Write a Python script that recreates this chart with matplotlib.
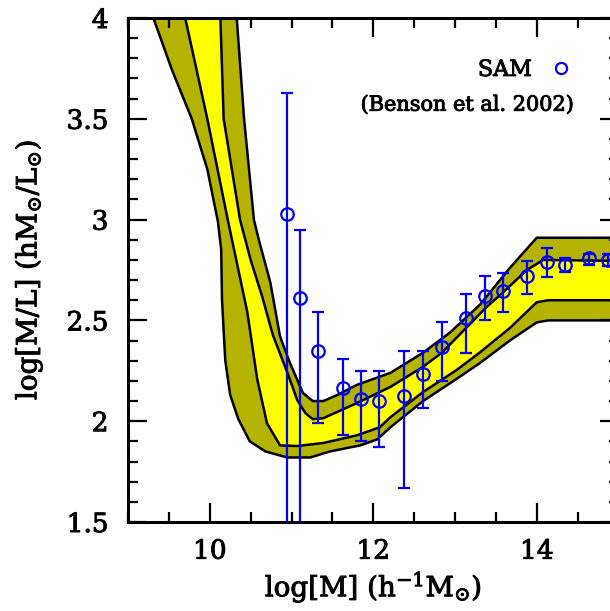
import matplotlib
matplotlib.use('Agg')
import matplotlib.pyplot as plt
import matplotlib.patheffects as pe
from matplotlib.lines import Line2D
from matplotlib.ticker import MultipleLocator, FuncFormatter

plt.rcParams['font.family'] = ['DejaVu Serif']
plt.rcParams['mathtext.fontset'] = 'dejavuserif'

# band edges: outer upper (A), inner upper (B), inner lower (C), outer lower (D)
a_x = [10.33, 10.42, 10.54, 10.60, 10.74, 10.86, 10.98, 11.14, 11.26, 11.39, 11.56, 11.80,
       12.21, 12.61, 12.94, 13.31, 13.67, 14.00, 15.0]
a_y = [4.00, 3.50, 3.00, 2.90, 2.69, 2.42, 2.29, 2.14, 2.10, 2.10, 2.13, 2.18,
       2.24, 2.34, 2.44, 2.58, 2.76, 2.91, 2.91]

b_x = [10.13, 10.17, 10.37, 10.50, 10.64, 10.77, 10.95, 11.07, 11.17, 11.26, 11.39, 11.80,
       12.21, 12.61, 12.84, 13.13, 13.37, 13.59, 13.88, 14.08, 15.0]
b_y = [4.00, 3.50, 3.00, 2.80, 2.62, 2.43, 2.24, 2.105, 2.04, 2.01, 2.015, 2.09,
       2.17, 2.27, 2.34, 2.46, 2.56, 2.64, 2.75, 2.80, 2.795]

c_x = [9.70, 9.97, 10.22, 10.46, 10.58, 10.70, 10.86, 11.07, 11.39, 11.80, 12.08, 12.21,
       12.61, 13.02, 13.31, 13.67, 14.00, 14.14, 15.0]
c_y = [4.00, 3.50, 3.00, 2.54, 2.21, 1.99, 1.88, 1.877, 1.892, 1.93, 1.97, 2.02,
       2.145, 2.254, 2.343, 2.462, 2.59, 2.60, 2.60]

d_x = [9.31, 9.54, 9.78, 9.97, 10.10, 10.14, 10.15, 10.19, 10.25, 10.35, 10.49, 10.68,
       10.95, 11.23, 11.47, 11.84, 12.05, 12.21, 12.61, 13.02, 13.31, 13.67, 14.00, 14.14, 15.0]
d_y = [4.00, 3.74, 3.50, 3.25, 2.99, 2.85, 2.60, 2.30, 2.13, 2.01, 1.90, 1.85,
       1.82, 1.82, 1.85, 1.88, 1.91, 1.97, 2.10, 2.21, 2.29, 2.40, 2.49, 2.50, 2.50]

# SAM points (Benson et al. 2002)
sam_x = [10.95, 11.10, 11.32, 11.63, 11.85, 12.07, 12.38, 12.61, 12.84, 13.13, 13.37, 13.59,
         13.88, 14.13, 14.35, 14.64, 14.87]
sam_y = [3.03, 2.61, 2.35, 2.165, 2.11, 2.10, 2.125, 2.235, 2.37, 2.51, 2.62, 2.645,
         2.72, 2.79, 2.775, 2.81, 2.80]
sam_hi = [3.63, 2.95, 2.54, 2.31, 2.25, 2.25, 2.35, 2.35, 2.49, 2.63, 2.72, 2.735,
          2.795, 2.86, 2.81, 2.83, 2.83]
sam_lo = [1.0, 1.0, 1.99, 1.93, 1.90, 1.87, 1.67, 2.065, 2.20, 2.34, 2.50, 2.54,
          2.63, 2.715, 2.74, 2.775, 2.77]

olive = '#b3b300'
yellow = '#ffff00'
thick = [pe.withStroke(linewidth=0.7, foreground='black')]

fig = plt.figure(figsize=(6.10, 6.11), dpi=100)
ax = fig.add_axes([128 / 610, 89 / 611, 490.5 / 610, 504 / 611])

ax.fill(a_x + d_x[::-1], a_y + d_y[::-1], color=olive, lw=0, zorder=1)
ax.fill(b_x + c_x[::-1], b_y + c_y[::-1], color=yellow, lw=0, zorder=2)
for xs, ys in [(a_x, a_y), (b_x, b_y), (c_x, c_y), (d_x, d_y)]:
    ax.plot(xs, ys, color='black', lw=1.8, solid_joinstyle='round', zorder=3)

yerr = [[y - l for y, l in zip(sam_y, sam_lo)], [h - y for y, h in zip(sam_y, sam_hi)]]
ax.errorbar(sam_x, sam_y, yerr=yerr, fmt='o', ms=9, mfc='none', mec='blue', mew=1.6,
            ecolor='blue', elinewidth=1.6, capsize=4.5, capthick=1.6, zorder=4)

ax.set_xlim(9, 15)
ax.set_ylim(1.5, 4)
ax.xaxis.set_major_locator(MultipleLocator(2))
ax.xaxis.set_minor_locator(MultipleLocator(0.5))
ax.yaxis.set_major_locator(MultipleLocator(0.5))
ax.yaxis.set_minor_locator(MultipleLocator(0.1))
ax.yaxis.set_major_formatter(FuncFormatter(lambda v, p: '%g' % v))
ax.tick_params(which='both', direction='in', top=True, right=True, width=1.6, labelsize=19)
ax.tick_params(which='major', length=14)
ax.tick_params(which='minor', length=7)
ax.tick_params(axis='y', pad=14)
ax.tick_params(axis='x', pad=12)
for s in ax.spines.values():
    s.set_linewidth(2.2)

ax.set_xlabel(r'log[M] (h$^{-1}$M$_{\odot}$)', fontsize=20, labelpad=4, path_effects=thick)
ax.set_ylabel(r'log[M/L] (hM$_{\odot}$/L$_{\odot}$)', fontsize=20, labelpad=16,
              path_effects=thick)
for lab in ax.get_xticklabels() + ax.get_yticklabels():
    lab.set_path_effects(thick)

sam_handle = Line2D([], [], ls='none', marker='o', ms=8, mfc='none', mec='blue', mew=1.6)
leg = ax.legend([sam_handle], ['SAM'], loc='center right', bbox_to_anchor=(0.905, 0.897),
                frameon=False, markerfirst=False, fontsize=16, handlelength=1.0,
                handletextpad=0.8, borderpad=0, borderaxespad=0)
for t in leg.get_texts():
    t.set_path_effects(thick)
ax.text(0.911, 0.827, '(Benson et al. 2002)', transform=ax.transAxes, ha='right',
        va='center', fontsize=15, path_effects=thick)

fig.savefig('out.png', dpi=100)
